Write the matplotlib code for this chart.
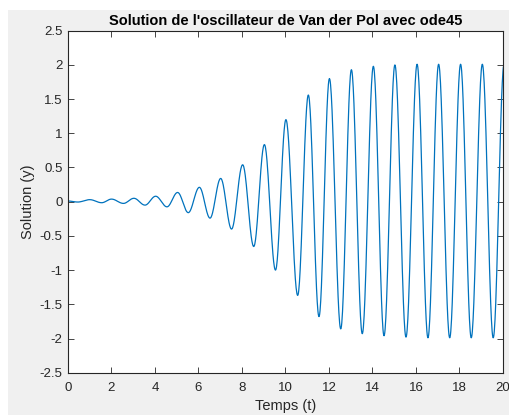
import numpy as np
import matplotlib
matplotlib.use("Agg")
import matplotlib.pyplot as plt
from matplotlib.patches import Rectangle

# Extrema (time, value) of the solution
ext_t = [0.0, 0.45, 1.0, 1.55, 2.0, 2.55, 3.03, 3.54, 4.03, 4.55, 5.04, 5.53,
         6.04, 6.53, 7.02, 7.52, 8.03, 8.54, 9.03, 9.54, 10.02, 10.56, 11.05,
         11.54, 12.02, 12.54, 13.03, 13.53, 14.04, 14.53, 15.03, 15.54, 16.05,
         16.55, 17.04, 17.55, 18.05, 18.54, 19.05, 19.55, 20.05]
ext_y = [0.01, -0.005, 0.03, -0.015, 0.038, -0.025, 0.05, -0.05, 0.08, -0.075,
         0.135, -0.16, 0.21, -0.24, 0.34, -0.40, 0.54, -0.655, 0.835, -1.0,
         1.20, -1.37, 1.56, -1.68, 1.80, -1.86, 1.93, -1.93, 1.98, -1.96,
         2.00, -1.98, 2.01, -1.99, 2.01, -1.99, 2.01, -1.99, 2.01, -1.99, 2.01]

xticks = [0, 2, 4, 6, 8, 10, 12, 14, 16, 18, 20]
yticks = [-2.5, -2, -1.5, -1, -0.5, 0, 0.5, 1, 1.5, 2, 2.5]
ytick_labels = ["-2.5", "-2", "-1.5", "-1", "-0.5", "0", "0.5", "1", "1.5", "2", "2.5"]

title = "Solution de l'oscillateur de Van der Pol avec ode45"
xlabel = "Temps (t)"
ylabel = "Solution (y)"

# smooth half-cosine shape between successive extrema
tt, yy = [], []
for i in range(len(ext_t) - 1):
    s = np.linspace(0, 1, 30, endpoint=False)
    tt.append(ext_t[i] + (ext_t[i + 1] - ext_t[i]) * s)
    yy.append(ext_y[i] + (ext_y[i + 1] - ext_y[i]) * (1 - np.cos(np.pi * s)) / 2)
tt.append([ext_t[-1]]); yy.append([ext_y[-1]])
tt = np.concatenate(tt); yy = np.concatenate(yy)

plt.rcParams['font.family'] = ['Liberation Sans', 'DejaVu Sans']

W, H = 510, 415
fig = plt.figure(figsize=(W / 100, H / 100), dpi=100)
fig.patch.set_facecolor('white')
fig.patches.append(Rectangle((8 / W, 0), 1, 1 - 10 / H, transform=fig.transFigure,
                             facecolor='#f0f0f0', edgecolor='none', zorder=-10))

ax = fig.add_axes([68 / W, 42.3 / H, 435 / W, 342 / H])
ax.set_facecolor('white')
ax.plot(tt, yy, color='#0072BD', linewidth=0.9, clip_on=True)
ax.set_xlim(0, 20)
ax.set_ylim(-2.5, 2.5)
ax.set_xticks(xticks)
ax.set_yticks(yticks)
ax.set_yticklabels(ytick_labels)
ax.tick_params(direction='in', length=4, width=0.6, colors='#262626',
               labelsize=9.5, top=True, right=True)
ax.tick_params(axis='x', pad=7)
ax.tick_params(axis='y', pad=4)
for sp in ax.spines.values():
    sp.set_color('#262626')
    sp.set_linewidth(0.8)
ax.set_title(title, fontsize=10.5, fontweight='bold', color='black', pad=4)
ax.set_xlabel(xlabel, fontsize=10.5, color='#262626', labelpad=3)
ax.set_ylabel(ylabel, fontsize=10.5, color='#262626', labelpad=3)

fig.savefig('out.png', dpi=100)
